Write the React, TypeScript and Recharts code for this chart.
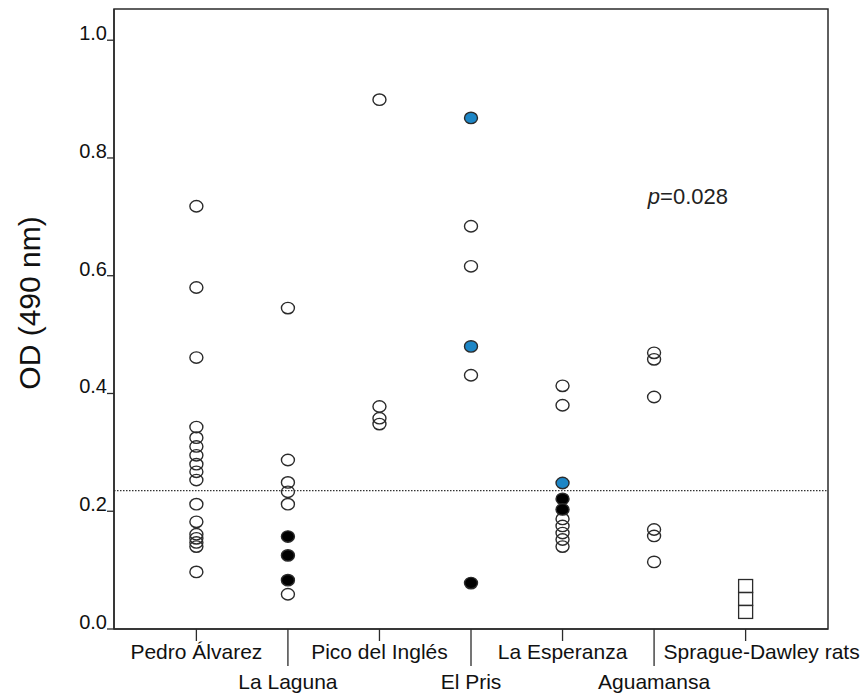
import React from "react";
import {
    ScatterChart,
    Scatter,
    XAxis,
    YAxis,
    ReferenceLine,
    ReferenceArea,
    ReferenceDot,
} from "recharts";

const sites = [
    "Pedro Álvarez",
    "La Laguna",
    "Pico del Inglés",
    "El Pris",
    "La Esperanza",
    "Aguamansa",
    "Sprague-Dawley rats",
];

// OD values, one list per site
const openOD = [
    [0.718, 0.58, 0.461, 0.343, 0.325, 0.31, 0.295, 0.28, 0.267, 0.253, 0.212, 0.182, 0.161, 0.154, 0.147, 0.14, 0.097],
    [0.545, 0.287, 0.249, 0.233, 0.212, 0.059],
    [0.899, 0.378, 0.358, 0.348],
    [0.684, 0.616, 0.431],
    [0.413, 0.38, 0.187, 0.175, 0.163, 0.152, 0.14],
    [0.469, 0.458, 0.394, 0.169, 0.158, 0.114],
    [],
];
const blackOD = [[], [0.157, 0.125, 0.083], [], [0.078], [0.221, 0.203], [], []];
const blueOD = [[], [], [], [0.868, 0.48], [0.248], [], []];
const ratOD = [0.073, 0.051, 0.029];

const yTicks = [0, 0.2, 0.4, 0.6, 0.8, 1.0];
const cutoff = 0.235;
const pValue = "0.028";

const toPoints = (groups: number[][]) =>
    groups.flatMap((vals, i) => vals.map((v) => ({ x: i + 1, y: v })));

const openData = toPoints(openOD);
const blackData = toPoints(blackOD);
const blueData = toPoints(blueOD);
const ratData = ratOD.map((v) => ({ x: sites.length, y: v }));

const FONT = "'Liberation Sans', Arial, Helvetica, sans-serif";
const INK = "#2b2b2b";

const circle = (fill: string) => (props: any) => (
    <ellipse cx={props.cx} cy={props.cy} rx={6.5} ry={5.7} fill={fill} stroke={INK} strokeWidth={1.4} />
);

const square = (props: any) => (
    <rect x={props.cx - 7} y={props.cy - 6.5} width={14} height={13} fill="none" stroke={INK} strokeWidth={1.3} />
);

function SiteTick({ x, y, payload }: any) {
    const i = payload.value - 1;
    const low = i % 2 === 1;
    // last label runs off to the right in the original
    const dx = i === sites.length - 1 ? 16 : 0;
    return (
        <g>
            <line x1={x} x2={x} y1={y} y2={y + (low ? 37 : 12)} stroke={INK} strokeWidth={1.3} />
            <text x={x + dx} y={y + (low ? 60 : 30)} textAnchor="middle" fontFamily={FONT} fontSize={21} fill="#111">
                {sites[i]}
            </text>
        </g>
    );
}

function ODTick({ x, y, payload }: any) {
    return (
        <g>
            <line x1={x - 7} x2={x} y1={y} y2={y} stroke={INK} strokeWidth={1.3} />
            <text x={x - 7} y={y} textAnchor="end" fontFamily={FONT} fontSize={20} fill="#111">
                {payload.value.toFixed(1)}
            </text>
        </g>
    );
}

export default function App() {
    return (
        <div style={{ position: "absolute", left: 0, top: 0, background: "#fff" }}>
            <ScatterChart width={865} height={695} margin={{ top: 9, right: 37, bottom: 0, left: 54 }}>
                <XAxis
                    type="number"
                    dataKey="x"
                    domain={[0.1, 7.9]}
                    ticks={[1, 2, 3, 4, 5, 6, 7]}
                    tick={<SiteTick />}
                    tickSize={0}
                    tickMargin={0}
                    tickLine={false}
                    axisLine={{ stroke: INK, strokeWidth: 1.5 }}
                    height={66}
                    interval={0}
                />
                <YAxis
                    type="number"
                    dataKey="y"
                    domain={[0, 1.053]}
                    ticks={yTicks}
                    tick={<ODTick />}
                    tickSize={0}
                    tickMargin={0}
                    tickLine={false}
                    axisLine={{ stroke: INK, strokeWidth: 1.5 }}
                    width={60}
                    label={() => (
                        <text
                            x={40}
                            y={303}
                            transform="rotate(-90 40 303)"
                            textAnchor="middle"
                            fontFamily={FONT}
                            fontSize={30}
                            fill="#111"
                        >
                            OD (490 nm)
                        </text>
                    )}
                />
                <ReferenceArea x1={0.1} x2={7.9} y1={0} y2={1.053} fill="none" stroke={INK} strokeWidth={1.5} />
                <ReferenceLine y={cutoff} stroke="#333" strokeWidth={1.3} strokeDasharray="1.5 1.5" />
                <ReferenceDot
                    x={6.37}
                    y={0.735}
                    r={0}
                    fill="none"
                    stroke="none"
                    label={(p: any) => (
                        <text
                            x={p.viewBox.x}
                            y={p.viewBox.y + 8}
                            textAnchor="middle"
                            fontFamily={FONT}
                            fontSize={22}
                            fill="#222"
                        >
                            <tspan fontStyle="italic">p</tspan>={pValue}
                        </text>
                    )}
                />
                <Scatter data={openData} shape={circle("none")} isAnimationActive={false} />
                <Scatter data={blackData} shape={circle("#000")} isAnimationActive={false} />
                <Scatter data={blueData} shape={circle("#1d86c6")} isAnimationActive={false} />
                <Scatter data={ratData} shape={square} isAnimationActive={false} />
            </ScatterChart>
        </div>
    );
}
